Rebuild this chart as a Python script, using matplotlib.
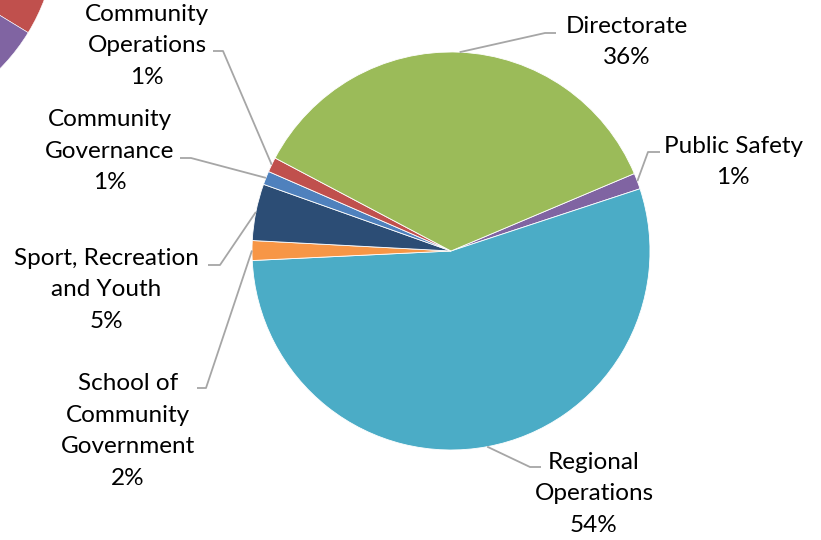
import matplotlib
matplotlib.use("Agg")
import matplotlib.pyplot as plt
import numpy as np

# Budget share by division (percent), listed clockwise from the right-hand side
divisions = [
    "Public Safety",
    "Regional\nOperations",
    "School of\nCommunity\nGovernment",
    "Sport, Recreation\nand Youth",
    "Community\nGovernance",
    "Community\nOperations",
    "Directorate",
]
shares = [1.3, 54.3, 1.6, 4.6, 1.1, 1.2, 35.9]
colors = ["#8064A2", "#4BACC6", "#F79646", "#2C4D75", "#4F81BD", "#C0504D", "#9BBB59"]

# Neighbouring chart that bleeds in from the top-left corner
neighbour_shares = [50, 50]
neighbour_colors = ["#C0504D", "#8064A2"]

W, H = 821, 540
fig = plt.figure(figsize=(W / 100, H / 100), dpi=100)
ax = fig.add_axes([0, 0, 1, 1])

cx, cy, r = 451, 540 - 251, 199
wedges, _ = ax.pie(shares, colors=colors, startangle=22.9, counterclock=False,
                   center=(cx, cy), radius=r,
                   wedgeprops=dict(edgecolor="white", linewidth=0.6))

ax.pie(neighbour_shares, colors=neighbour_colors, startangle=-31.4,
       center=(-140, 540 + 70), radius=197,
       wedgeprops=dict(edgecolor="white", linewidth=0.4))

ax.set_xlim(0, W)
ax.set_ylim(0, H)
ax.set_aspect("equal")
ax.axis("off")

font = dict(family=["Lato", "DejaVu Sans"], fontsize=17.5, color="black",
            ha="center", va="center", linespacing=1.63)

# label centre (x, y from top), leader elbow points (from top)
layout = {
    "Public Safety": ((733, 162), [(660, 152), (648, 152)]),
    "Regional\nOperations": ((594, 494), [(541, 467), (530, 467)]),
    "School of\nCommunity\nGovernment": ((128, 431), [(197, 388), (206, 388)]),
    "Sport, Recreation\nand Youth": ((106, 290), [(208, 265), (220, 265)]),
    "Community\nGovernance": ((110, 151), [(180, 158), (191, 158)]),
    "Community\nOperations": ((147, 46), [(213, 51), (223, 51)]),
    "Directorate": ((627, 42), [(556, 33), (545, 33)]),
}

for name, share, w in zip(divisions, shares, wedges):
    (tx, ty), elbow = layout[name]
    ax.text(tx, H - ty, f"{name}\n{round(share):.0f}%", **font)
    mid = np.deg2rad((w.theta1 + w.theta2) / 2)
    px, py = cx + r * np.cos(mid), cy + r * np.sin(mid)
    xs = [p[0] for p in elbow] + [px]
    ys = [H - p[1] for p in elbow] + [py]
    ax.plot(xs, ys, color="#A6A6A6", lw=1.3, solid_capstyle="butt")

fig.savefig("out.png", dpi=100)
